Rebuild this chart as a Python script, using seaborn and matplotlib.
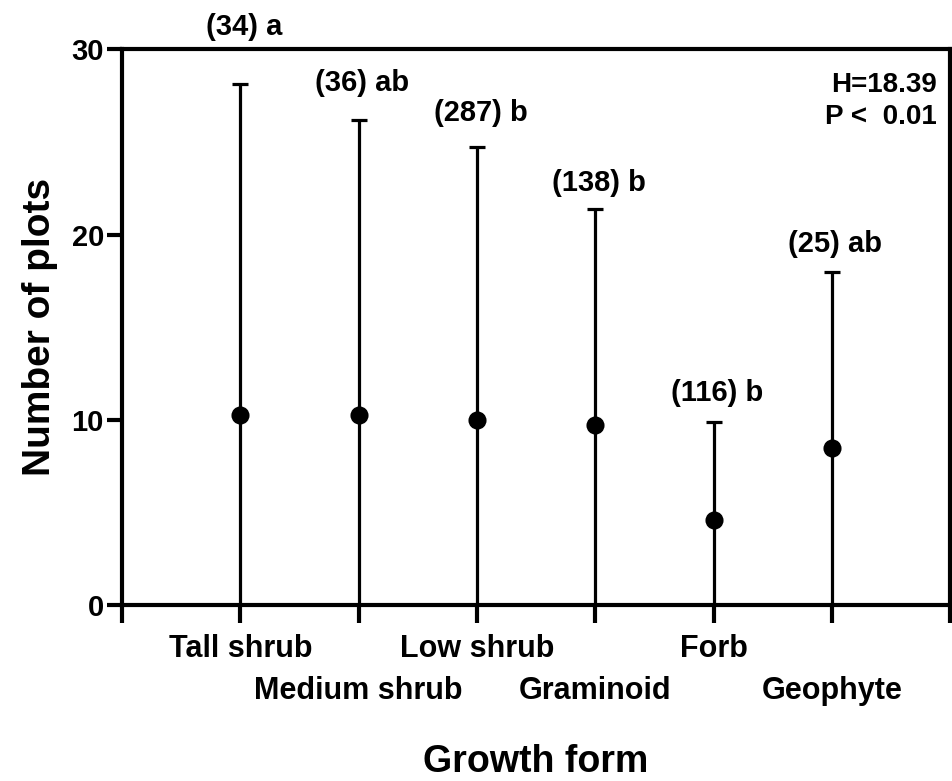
import numpy as np
import pandas as pd
import seaborn as sns
import matplotlib.pyplot as plt

sns.set_theme(style="ticks")
plt.rcParams["font.family"] = ["Liberation Sans", "DejaVu Sans"]
plt.rcParams["font.weight"] = "bold"
plt.rcParams["text.color"] = "black"
plt.rcParams["axes.labelcolor"] = "black"
plt.rcParams["xtick.color"] = "black"
plt.rcParams["ytick.color"] = "black"

# data
forms = ["Tall shrub", "Medium shrub", "Low shrub", "Graminoid", "Forb", "Geophyte"]
means = [10.25, 10.25, 10.0, 9.7, 4.6, 8.5]
upper = [28.1, 26.2, 24.7, 21.4, 9.9, 18.0]
lower = [0, 0, 0, 0, 0, 0]
labels = ["(34) a", "(36) ab", "(287) b", "(138) b", "(116) b", "(25) ab"]
label_y = [31.2, 28.2, 26.55, 22.8, 11.45, 19.5]

df = pd.DataFrame({"form": forms, "mean": means, "upper": upper, "lower": lower})

fig, ax = plt.subplots(figsize=(9.53, 7.81), dpi=100)
fig.subplots_adjust(left=0.128, right=0.997, bottom=0.225, top=0.937)

pos = np.arange(len(forms))
ax.errorbar(pos, df["mean"], yerr=[df["mean"] - df["lower"], df["upper"] - df["mean"]],
            fmt="none", ecolor="black", elinewidth=2.3, capsize=5.5, capthick=2.3, zorder=2)
sns.pointplot(data=df, x="form", y="mean", linestyle="none", color="black",
              marker="o", markersize=11, errorbar=None, ax=ax, zorder=3)

for x, y, t in zip(pos, label_y, labels):
    ax.text(x + 0.03, y, t, ha="center", va="center", fontsize=21, fontweight="bold",
            clip_on=False)

ax.text(0.984, 0.935, "H=18.39", transform=ax.transAxes, ha="right", va="center",
        fontsize=20, fontweight="bold")
ax.text(0.984, 0.878, "P <  0.01", transform=ax.transAxes, ha="right", va="center",
        fontsize=20, fontweight="bold")

ax.set_xlim(-1, len(forms))
ax.set_ylim(0, 30)

# staggered category labels: first row on major ticks, second row on minor ticks
ax.xaxis.remove_overlapping_locs = False
major_labels = [""] + [f if i % 2 == 0 else "" for i, f in enumerate(forms)] + [""]
ax.set_xticks(np.arange(-1, len(forms) + 1), labels=major_labels,
              fontsize=22, fontweight="bold")
ax.set_xticks(pos[1::2], labels=forms[1::2], minor=True, fontsize=22, fontweight="bold")
ax.set_yticks([0, 10, 20, 30])
ax.set_yticklabels(["0", "10", "20", "30"], fontsize=21, fontweight="bold")
ax.tick_params(axis="x", which="major", length=13, width=3, pad=8)
ax.tick_params(axis="x", which="minor", length=0, pad=51)
ax.tick_params(axis="y", length=11, width=3, pad=2)

for s in ax.spines.values():
    s.set_visible(True)
    s.set_linewidth(3)
    s.set_color("black")

ax.set_xlabel("Growth form", fontsize=27, fontweight="bold", labelpad=27)
ax.set_ylabel("Number of plots", fontsize=28, fontweight="bold", labelpad=10)

fig.savefig("out.png", dpi=100)
